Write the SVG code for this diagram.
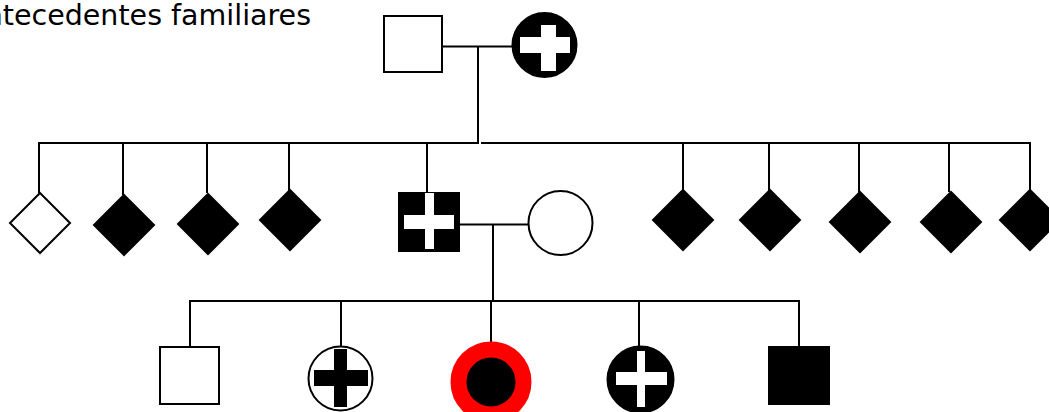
<svg xmlns="http://www.w3.org/2000/svg" width="1049" height="412" viewBox="0 0 1049 412">
  <style>
    .ln { stroke: #000; stroke-width: 2; fill: none; stroke-linecap: butt; }
    .open { fill: #fff; stroke: #000; stroke-width: 2; }
    .solid { fill: #000; stroke: #000; stroke-width: 2; }
    .wx { fill: #fff; }
    .bx { fill: #000; }
    .title { font-family: "DejaVu Sans", Verdana, sans-serif; font-size: 28.5px; fill: #000; }
  </style>
  <defs>
    <polygon id="diamond" points="0,-30 30,0 0,30 -30,0"/>
  </defs>

  <rect width="1049" height="412" fill="#fff"/>

  <text class="title" x="311" y="25" text-anchor="end">Antecedentes familiares</text>

  <!-- connectors -->
  <g id="connectors" class="ln">
    <!-- grandparents couple and sibship -->
    <line x1="443" y1="46.5" x2="512" y2="46.5"/>
    <line x1="478" y1="46.5" x2="478" y2="143"/>
    <line x1="38" y1="143" x2="479" y2="143"/>
    <line x1="481" y1="143" x2="1031" y2="143"/>
    <line x1="39" y1="142" x2="39" y2="193"/>
    <line x1="123" y1="142" x2="123" y2="195"/>
    <line x1="207" y1="142" x2="207" y2="193"/>
    <line x1="289" y1="142" x2="289" y2="191"/>
    <line x1="427" y1="142" x2="427" y2="192"/>
    <line x1="683" y1="142" x2="683" y2="191"/>
    <line x1="769" y1="142" x2="769" y2="191"/>
    <line x1="859" y1="142" x2="859" y2="193"/>
    <line x1="949" y1="142" x2="949" y2="192"/>
    <line x1="1030" y1="142" x2="1030" y2="191"/>
    <!-- parents couple and children sibship -->
    <line x1="460" y1="224.5" x2="528" y2="224.5"/>
    <line x1="493" y1="224.5" x2="493" y2="301"/>
    <line x1="189" y1="301" x2="800" y2="301"/>
    <line x1="190" y1="300" x2="190" y2="347"/>
    <line x1="341" y1="301" x2="341" y2="347"/>
    <line x1="491" y1="301" x2="491" y2="342"/>
    <line x1="639" y1="301" x2="639" y2="346"/>
    <line x1="799" y1="300" x2="799" y2="346"/>
  </g>

  <!-- generation I -->
  <g id="grandfather">
    <rect class="open" x="384" y="16" width="58" height="56"/>
  </g>
  <g id="grandmother">
    <circle class="solid" cx="544.5" cy="45" r="32"/>
    <rect class="wx" x="520" y="37" width="50" height="16"/>
    <rect class="wx" x="541" y="25" width="15" height="46"/>
  </g>

  <!-- generation II -->
  <g id="sib1"><use href="#diamond" x="40" y="223" class="open"/></g>
  <g id="sib2"><use href="#diamond" x="124" y="225" class="solid"/></g>
  <g id="sib3"><use href="#diamond" x="208" y="224" class="solid"/></g>
  <g id="sib4"><use href="#diamond" x="290" y="220" class="solid"/></g>
  <g id="father">
    <rect class="solid" x="399" y="193" width="60" height="58"/>
    <rect class="wx" x="404" y="215" width="50" height="14"/>
    <rect class="wx" x="425" y="193" width="9" height="56"/>
  </g>
  <g id="mother">
    <circle class="open" cx="560.5" cy="223" r="32"/>
  </g>
  <g id="sib5"><use href="#diamond" x="683" y="220" class="solid"/></g>
  <g id="sib6"><use href="#diamond" x="770" y="220" class="solid"/></g>
  <g id="sib7"><use href="#diamond" x="860" y="222" class="solid"/></g>
  <g id="sib8"><use href="#diamond" x="951" y="222" class="solid"/></g>
  <g id="sib9"><use href="#diamond" x="1030" y="220" class="solid"/></g>

  <!-- generation III -->
  <g id="child1">
    <rect class="open" x="160" y="347" width="59" height="57"/>
  </g>
  <g id="child2">
    <circle class="open" cx="340.5" cy="378.5" r="32"/>
    <rect class="bx" x="314" y="370" width="54" height="16"/>
    <rect class="bx" x="334" y="349" width="13" height="58"/>
  </g>
  <g id="proband">
    <circle cx="491" cy="382" r="32.5" fill="#000" stroke="#ff0000" stroke-width="16"/>
  </g>
  <g id="child4">
    <circle class="solid" cx="640.5" cy="379.5" r="33"/>
    <rect class="wx" x="616" y="372" width="51" height="13"/>
    <rect class="wx" x="637" y="351" width="8" height="56"/>
  </g>
  <g id="child5">
    <rect class="solid" x="769" y="347" width="60" height="57"/>
  </g>
</svg>
